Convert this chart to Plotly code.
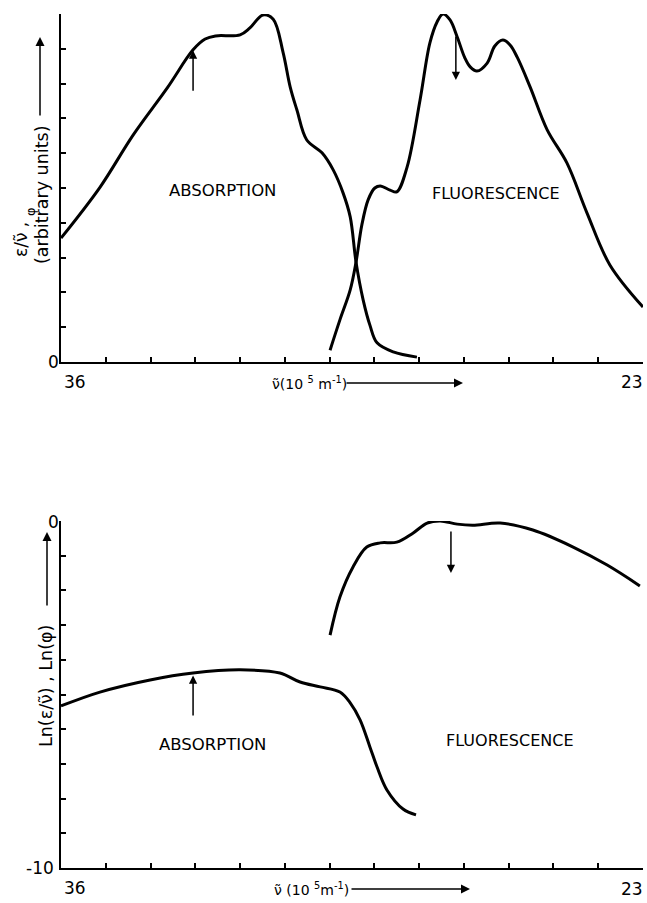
import plotly.graph_objects as go

W, H = 647, 903

# ---------------- data ----------------
# upper panel: eps/nu and phi (arbitrary units) vs wavenumber (10^5 m^-1)
abs_top_x = [36.0, 35.13, 34.39, 33.63, 33.05, 32.78, 32.55, 32.0, 31.78, 31.49, 31.26,
             31.04, 30.88, 30.73, 30.51, 30.17, 29.92, 29.70, 29.54, 29.41, 29.25,
             29.10, 28.94, 28.58, 28.05]
abs_top_y = [3.56, 5.02, 6.52, 7.87, 8.97, 9.28, 9.37, 9.40, 9.60, 9.97, 9.85,
             8.90, 7.90, 7.24, 6.38, 6.01, 5.52, 4.86, 4.17, 2.87, 1.78,
             1.06, 0.55, 0.29, 0.14]

flu_top_x = [29.99, 29.77, 29.54, 29.41, 29.28, 29.14, 28.99, 28.87, 28.65, 28.50,
             28.27, 27.98, 27.76, 27.60, 27.47, 27.31, 27.15, 26.98, 26.86, 26.71,
             26.48, 26.31, 26.13, 25.97, 25.81, 25.52, 25.14, 24.70, 24.25, 23.74, 23.0]
flu_top_y = [0.34, 1.21, 2.07, 2.87, 3.94, 4.66, 5.00, 5.06, 4.94, 4.89,
             5.60, 7.53, 9.17, 9.77, 10.0, 9.83, 9.34, 8.74, 8.48, 8.36,
             8.59, 9.08, 9.25, 9.11, 8.76, 7.90, 6.67, 5.72, 4.28, 2.79, 1.58]

# lower panel: ln(eps/nu), ln(phi)
abs_bot_x = [36.0, 35.13, 34.01, 33.05, 32.0, 31.11, 30.66, 30.21, 29.77, 29.54,
             29.32, 29.10, 28.94, 28.72, 28.36, 28.07]
abs_bot_y = [-5.33, -4.93, -4.58, -4.38, -4.29, -4.38, -4.64, -4.78, -4.93, -5.24,
             -5.73, -6.51, -7.09, -7.75, -8.30, -8.47]

flu_bot_x = [29.99, 29.77, 29.48, 29.17, 28.87, 28.50, 28.14, 27.82, 27.53, 27.15,
             26.80, 26.19, 25.46, 24.56, 23.80, 23.07]
flu_bot_y = [-3.29, -2.19, -1.33, -0.75, -0.63, -0.61, -0.35, -0.06, 0.0, -0.09,
             -0.12, -0.06, -0.26, -0.75, -1.27, -1.87]

# marker arrows (wavenumber, tail value, head value)
arrows_top = [(33.05, 7.75, 8.95), (27.18, 9.40, 8.10)]
arrows_bot = [(33.05, -5.65, -4.45), (27.29, -0.26, -1.50)]

x_range = [36, 23]
x_ticks = list(range(23, 37))
x_tick_labels = ["36", "23"]
y_top_ticks = list(range(0, 11))
y_bot_ticks = list(range(-10, 1))
y_top_tick_labels = ["0"]
y_bot_tick_labels = ["0", "-10"]

band_labels = ["ABSORPTION", "FLUORESCENCE"]

# ---------------- layout helpers ----------------
def px(x):
    return x / W

def py(y):
    return 1 - y / H

FONT = "DejaVu Sans"
LINE = dict(color="black", width=3)

fig = go.Figure()
fig.add_trace(go.Scatter(x=abs_top_x, y=abs_top_y, mode="lines", line=LINE,
                         line_shape="spline", xaxis="x", yaxis="y"))
fig.add_trace(go.Scatter(x=flu_top_x, y=flu_top_y, mode="lines", line=LINE,
                         line_shape="spline", xaxis="x", yaxis="y"))
fig.add_trace(go.Scatter(x=abs_bot_x, y=abs_bot_y, mode="lines", line=LINE,
                         line_shape="spline", xaxis="x2", yaxis="y2"))
fig.add_trace(go.Scatter(x=flu_bot_x, y=flu_bot_y, mode="lines", line=LINE,
                         line_shape="spline", xaxis="x2", yaxis="y2"))

xdom = [px(61), px(643)]
axis_common = dict(showgrid=False, zeroline=False, showline=True, linecolor="black",
                   linewidth=2, ticks="inside", ticklen=5, tickwidth=1.5,
                   tickcolor="black", showticklabels=False, mirror=False)

fig.update_layout(
    width=W, height=H, margin=dict(l=0, r=0, t=0, b=0),
    paper_bgcolor="white", plot_bgcolor="white", showlegend=False,
    xaxis=dict(domain=xdom, range=x_range, tickvals=x_ticks, anchor="y", **axis_common),
    yaxis=dict(domain=[py(362), py(14)], range=[0, 10], tickvals=y_top_ticks,
               anchor="x", **axis_common),
    xaxis2=dict(domain=xdom, range=x_range, tickvals=x_ticks, anchor="y2", **axis_common),
    yaxis2=dict(domain=[py(868), py(521)], range=[-10, 0], tickvals=y_bot_ticks,
                anchor="x2", **axis_common),
    font=dict(family=FONT, color="black"),
)

ann = []
def text(x, y, t, size=15, angle=0, xanchor="center"):
    ann.append(dict(x=px(x), y=py(y), xref="paper", yref="paper", text=t,
                    showarrow=False, font=dict(size=size, family=FONT, color="black"),
                    textangle=angle, xanchor=xanchor, yanchor="middle"))

def arrow_px(x0, y0, x1, y1, width=1.5):
    ann.append(dict(x=px(x1), y=py(y1), xref="paper", yref="paper", text="",
                    showarrow=True, ax=x0 - x1, ay=y0 - y1, axref="pixel", ayref="pixel",
                    arrowhead=2, arrowsize=1.2, arrowwidth=width, arrowcolor="black"))

def arrow_data(xa, ya, v, y0, y1):
    ann.append(dict(x=v, y=y1, xref=xa, yref=ya, ax=v, ay=y0, axref=xa, ayref=ya,
                    text="", showarrow=True, arrowhead=2, arrowsize=1.1,
                    arrowwidth=1.5, arrowcolor="black"))

# tick labels
text(75, 382, x_tick_labels[0], 17)
text(632, 382, x_tick_labels[1], 17)
text(53, 362, y_top_tick_labels[0], 17)
text(75, 888, x_tick_labels[0], 17)
text(632, 889, x_tick_labels[1], 17)
text(53, 522, y_bot_tick_labels[0], 17)
text(40, 868, y_bot_tick_labels[1], 17)

# axis titles
text(309, 383, "ν̃(10 <sup>5</sup> m<sup>-1</sup>)", 14)
arrow_px(345, 383, 463, 383)
text(311, 889, "ν̃ (10 <sup>5</sup>m<sup>-1</sup>)", 14)
arrow_px(350, 889, 470, 889)

text(21, 240, "ε/ν̃ ,", 17, -90)
text(31, 211, "φ", 13, -90)
text(42, 195, "(arbitrary units)", 17.5, -90)
arrow_px(40, 117, 40, 37)

text(46, 686, "Ln(ε/ν̃) , Ln(φ)", 17.5, -90)
arrow_px(47, 607, 47, 532)

# band labels
text(222, 190, band_labels[0], 16.5)
text(496, 193, band_labels[1], 16)
text(212, 744, band_labels[0], 16.5)
text(510, 740, band_labels[1], 16)

for v, a, b in arrows_top:
    arrow_data("x", "y", v, a, b)
for v, a, b in arrows_bot:
    arrow_data("x2", "y2", v, a, b)

fig.update_layout(annotations=ann)
fig.write_html("out.html", config={"displayModeBar": False},
               post_script="document.body.style.margin='0';document.body.style.padding='0';"
                           "document.body.style.overflow='hidden';")
